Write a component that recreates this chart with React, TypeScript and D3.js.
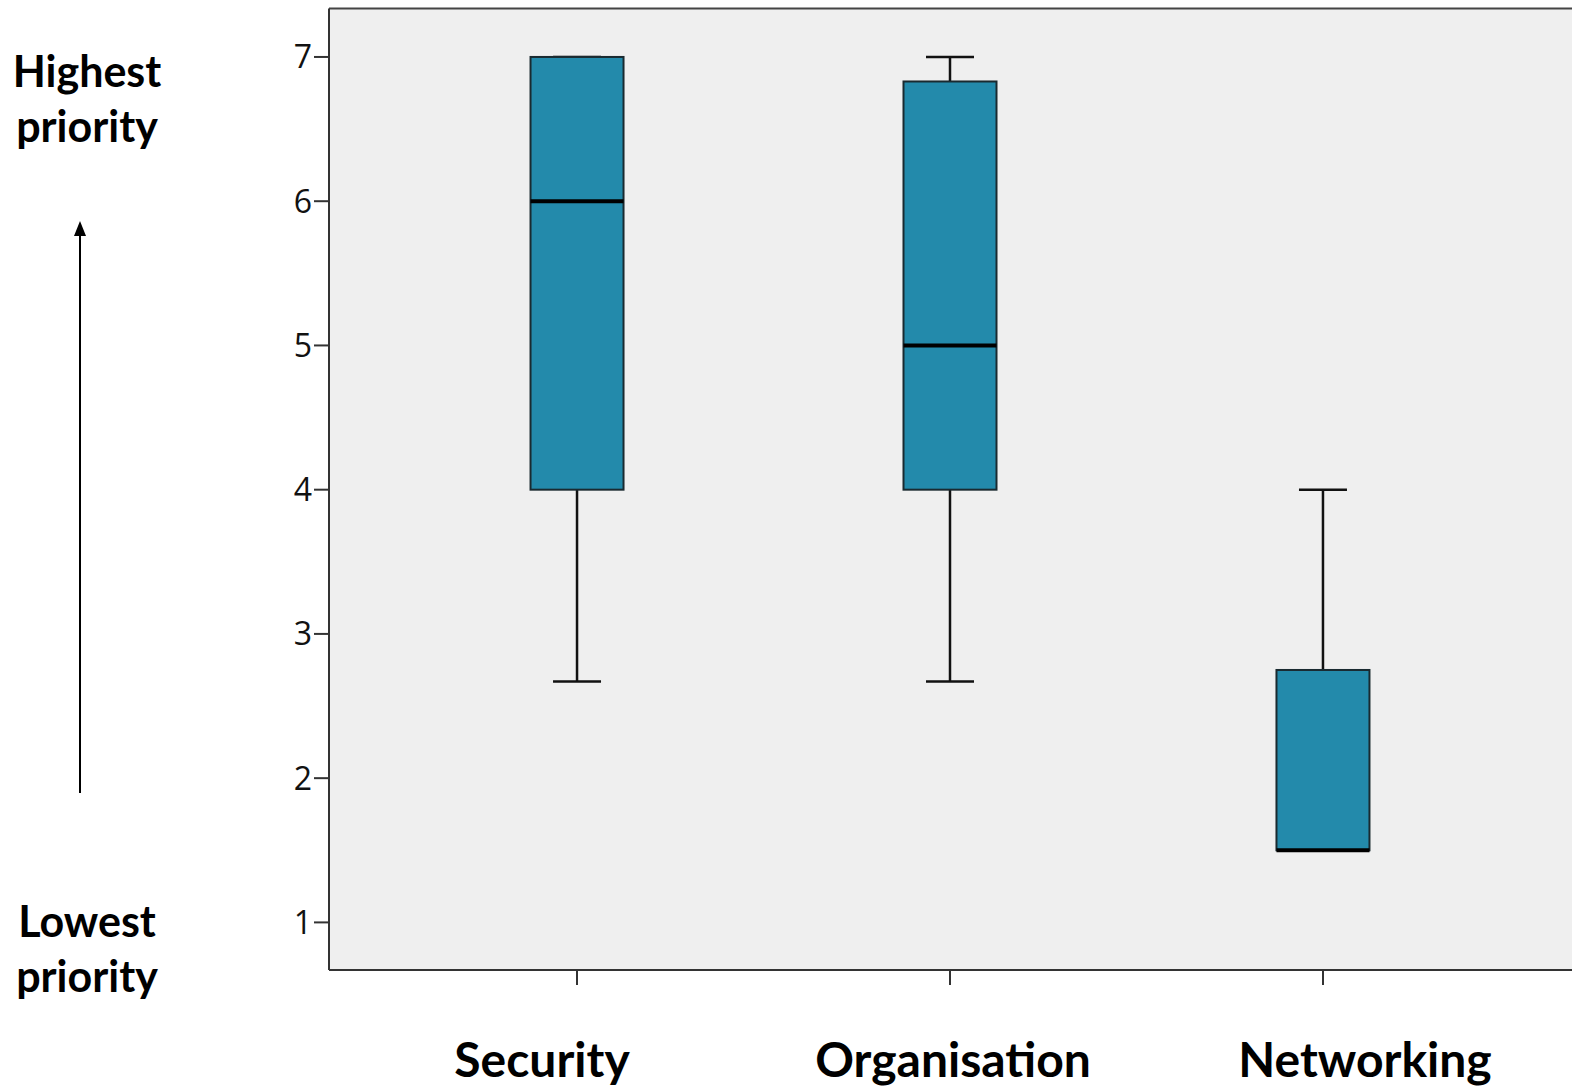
import React from "react";
import * as d3 from "d3";

const categories = ["Security", "Organisation", "Networking"];
const whiskerMin = [2.67, 2.67, 1.5];
const q1 = [4, 4, 1.5];
const median = [6, 5, 1.5];
const q3 = [7, 6.83, 2.75];
const whiskerMax = [7, 7, 4];
const yTicks = [1, 2, 3, 4, 5, 6, 7];
const labelOffsets = [-35, 3, 42];

const W = 1572;
const H = 1091;
const left = 329;
const right = 1571;
const top = 8.5;
const bottom = 970;

export default function App() {
  const y = d3.scaleLinear().domain([0.67, 7.336]).range([bottom, top]);
  const x = d3.scalePoint().domain(categories).range([left, right]).padding(0.665);
  const bw = 93;
  const cap = 48;
  const boxFill = "#238aab";
  const font = "Lato, 'Open Sans', sans-serif";
  return (
    <svg width={W} height={H} style={{ position: "absolute", left: 0, top: 0, background: "#fff" }}>
      <rect x={left} y={top} width={W - left} height={bottom - top} fill="#efefef" />
      <line x1={left} x2={W} y1={top} y2={top} stroke="#444" strokeWidth={2} />
      <line x1={left} x2={W} y1={bottom} y2={bottom} stroke="#333" strokeWidth={2} />
      <line x1={left} x2={left} y1={top} y2={bottom} stroke="#333" strokeWidth={2} />
      {yTicks.map((t) => (
        <g key={t}>
          <line x1={314} x2={left} y1={y(t)} y2={y(t)} stroke="#333" strokeWidth={2} />
          <text x={312} y={y(t)} dy="0.36em" textAnchor="end" fontFamily="'Open Sans', sans-serif" fontSize={32} fill="#111">
            {t}
          </text>
        </g>
      ))}
      {categories.map((c, i) => {
        const cx = x(c) as number;
        return (
          <g key={c}>
            <line x1={cx} x2={cx} y1={bottom} y2={bottom + 15} stroke="#333" strokeWidth={2} />
            <line x1={cx} x2={cx} y1={y(whiskerMax[i])} y2={y(q3[i])} stroke="#111" strokeWidth={2.5} />
            <line x1={cx} x2={cx} y1={y(q1[i])} y2={y(whiskerMin[i])} stroke="#111" strokeWidth={2.5} />
            <line x1={cx - cap / 2} x2={cx + cap / 2} y1={y(whiskerMax[i])} y2={y(whiskerMax[i])} stroke="#111" strokeWidth={2.5} />
            {whiskerMin[i] < q1[i] && (
              <line x1={cx - cap / 2} x2={cx + cap / 2} y1={y(whiskerMin[i])} y2={y(whiskerMin[i])} stroke="#111" strokeWidth={2.5} />
            )}
            <rect x={cx - bw / 2} y={y(q3[i])} width={bw} height={y(q1[i]) - y(q3[i])} fill={boxFill} stroke="#1a2a30" strokeWidth={2} />
            <line x1={cx - bw / 2} x2={cx + bw / 2} y1={y(median[i])} y2={y(median[i])} stroke="#000" strokeWidth={4} />
            <text x={cx + labelOffsets[i]} y={1077} textAnchor="middle" fontFamily={font} fontWeight="bold" fontSize={48} fill="#000">
              {c}
            </text>
          </g>
        );
      })}
      <text x={87} y={87} textAnchor="middle" fontFamily={font} fontWeight="bold" fontSize={43} fill="#000">Highest</text>
      <text x={87} y={142} textAnchor="middle" fontFamily={font} fontWeight="bold" fontSize={43} fill="#000">priority</text>
      <text x={87} y={937} textAnchor="middle" fontFamily={font} fontWeight="bold" fontSize={43} fill="#000">Lowest</text>
      <text x={87} y={992} textAnchor="middle" fontFamily={font} fontWeight="bold" fontSize={43} fill="#000">priority</text>
      <line x1={80} x2={80} y1={793} y2={232} stroke="#000" strokeWidth={2} />
      <path d="M80,221 L74,236 L86,236 Z" fill="#000" />
    </svg>
  );
}
